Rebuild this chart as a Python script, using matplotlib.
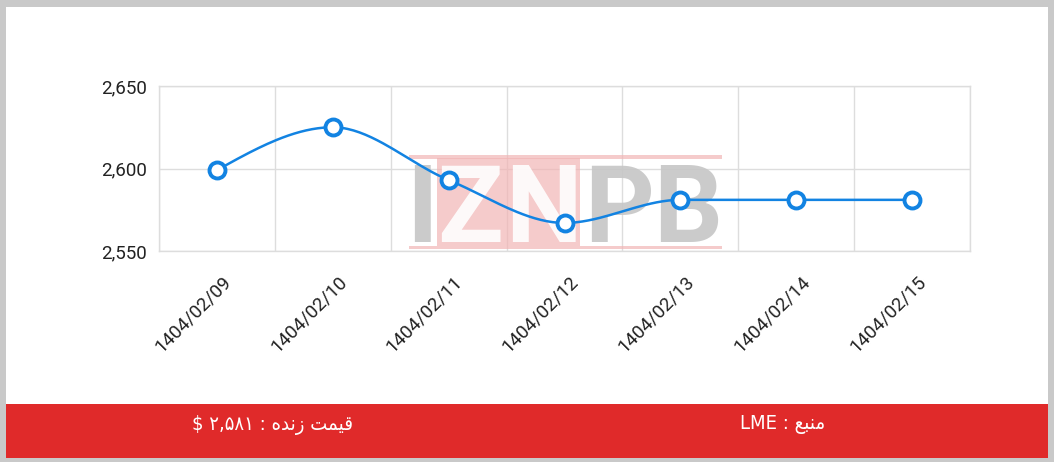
import numpy as np
import matplotlib
matplotlib.use("Agg")
import matplotlib.pyplot as plt
from matplotlib.patches import Rectangle
from matplotlib.transforms import IdentityTransform, ScaledTranslation
from matplotlib.ticker import FuncFormatter

# ---- data ----
dates = ["1404/02/09", "1404/02/10", "1404/02/11", "1404/02/12",
         "1404/02/13", "1404/02/14", "1404/02/15"]
prices = [2599, 2625, 2593, 2567, 2581, 2581, 2581]
y_ticks = [2550, 2600, 2650]
# footer texts (Persian, written in visual order with presentation forms)
live_price_text = "$ \u06F2,\u06F5\u06F8\u06F1 : \uFEE9\uFEAA\uFEE7\uFEAF \uFE96\uFEE4\uFEF4\uFED7"
source_text = "LME : \uFECA\uFE92\uFEE8\uFEE3"

W, H = 1054, 462
DPI = 100
fig = plt.figure(figsize=(W / DPI, H / DPI), dpi=DPI)
fig.patch.set_facecolor("#c9c9c9")

def px(x0, y0, w, h):
    """figure-pixel rectangle (top-left origin) -> figure fraction"""
    return [x0 / W, 1 - (y0 + h) / H, w / W, h / H]

# white panel and red footer
fig.add_artist(Rectangle((6 / W, 1 - 458 / H), 1042 / W, 451 / H,
                         transform=fig.transFigure, facecolor="white",
                         edgecolor="none", zorder=0))
fig.add_artist(Rectangle((6 / W, 1 - 458 / H), 1042 / W, 54 / H,
                         transform=fig.transFigure, facecolor="#e02a2a",
                         edgecolor="none", zorder=1))
fig.text(272 / W, 1 - 425 / H, live_price_text, color="white", fontsize=14.5,
         ha="center", va="center", family=["DejaVu Sans"], fontstretch="condensed")
fig.text(783 / W, 1 - 425 / H, source_text, color="white", fontsize=14.5,
         ha="center", va="center", family=["DejaVu Sans"], fontstretch="condensed")

# main axes
ax = fig.add_axes(px(159, 86, 811, 165))
ax.set_facecolor("none")
x = np.arange(len(dates))

# monotone cubic (d3 curveMonotoneX style) for the drawn path
def monotone(xs, ys, n=40):
    xs = np.asarray(xs, float); ys = np.asarray(ys, float)
    h = np.diff(xs); d = np.diff(ys) / h
    m = np.zeros_like(ys)
    for i in range(1, len(ys) - 1):
        if d[i - 1] * d[i] <= 0:
            m[i] = 0
        else:
            m[i] = (np.sign(d[i - 1]) + np.sign(d[i])) * min(abs(d[i - 1]), abs(d[i]),
                                                             0.5 * abs((h[i-1]*d[i] + h[i]*d[i-1]) / (h[i-1] + h[i])))
    m[0] = (3 * d[0] - m[1]) / 2 if len(ys) > 2 else d[0]
    m[-1] = (3 * d[-1] - m[-2]) / 2 if len(ys) > 2 else d[-1]
    px_, py_ = [], []
    for i in range(len(xs) - 1):
        t = np.linspace(0, 1, n)
        h00 = 2*t**3 - 3*t**2 + 1; h10 = t**3 - 2*t**2 + t
        h01 = -2*t**3 + 3*t**2; h11 = t**3 - t**2
        px_.extend(xs[i] + t * h[i])
        py_.extend(h00*ys[i] + h10*h[i]*m[i] + h01*ys[i+1] + h11*h[i]*m[i+1])
    return np.array(px_), np.array(py_)

cx, cy = monotone(x, prices)
ax.plot(cx, cy, color="#1283e2", lw=1.8, zorder=4, solid_capstyle="round")
ax.plot(x, prices, ls="none", marker="o", ms=11.5, mfc="white", mec="#1283e2",
        mew=2.8, zorder=5)

ax.set_xlim(-0.5, len(dates) - 0.5)
ax.set_ylim(y_ticks[0], y_ticks[-1])
ax.set_yticks(y_ticks)
ax.yaxis.set_major_formatter(FuncFormatter(lambda v, p: f"{int(v):,}"))
ax.set_xticks(x)
ax.set_xticks(np.arange(-0.5, len(dates)), minor=True)
ax.set_xticklabels(dates, rotation=45, ha="right", va="center",
                   rotation_mode="anchor")
ax.tick_params(axis="both", which="both", length=0, labelsize=13.5,
               labelcolor="#222222")
ax.tick_params(axis="y", pad=9)
ax.tick_params(axis="x", pad=12)
off = ScaledTranslation(8 / 72, -8 / 72, fig.dpi_scale_trans)
for lab in ax.get_xticklabels():
    lab.set_transform(lab.get_transform() + off)
for lab in ax.get_xticklabels() + ax.get_yticklabels():
    lab.set_family("Roboto")
ax.grid(False)
ax.grid(True, axis="x", which="minor", color="#dddddd", lw=1, zorder=0)
ax.grid(True, axis="y", which="major", color="#dddddd", lw=1, zorder=0)
for s in ax.spines.values():
    s.set_color("#dddddd")
    s.set_linewidth(1)

# watermark (IZNPB logo) in figure-pixel coordinates
def disp(xp, yp):
    return xp, H - yp

idt = IdentityTransform()
pink = "#f2b5b5"
wm = 0.7
for (x0, y0, w, h) in [(409, 155, 313, 3.5), (409, 245.5, 313, 3.5), (437, 158, 143, 87.5)]:
    X, Y = disp(x0, y0 + h)
    ax.add_artist(Rectangle((X, Y), w, h, transform=idt, facecolor=pink,
                            alpha=wm, edgecolor="none", zorder=2))
for ch, xc, col in [("I", 422, "#c6c6c6"), ("Z", 470, "white"), ("N", 543, "white"),
                    ("P", 619, "#c6c6c6"), ("B", 688, "#c6c6c6")]:
    X, Y = disp(xc, 242)
    ax.text(X, Y, ch, transform=idt, fontsize=78, fontweight="bold",
            family="Roboto", color=col, ha="center", va="baseline",
            zorder=3, alpha=0.9)

fig.savefig("out.png", dpi=DPI, facecolor=fig.get_facecolor())
